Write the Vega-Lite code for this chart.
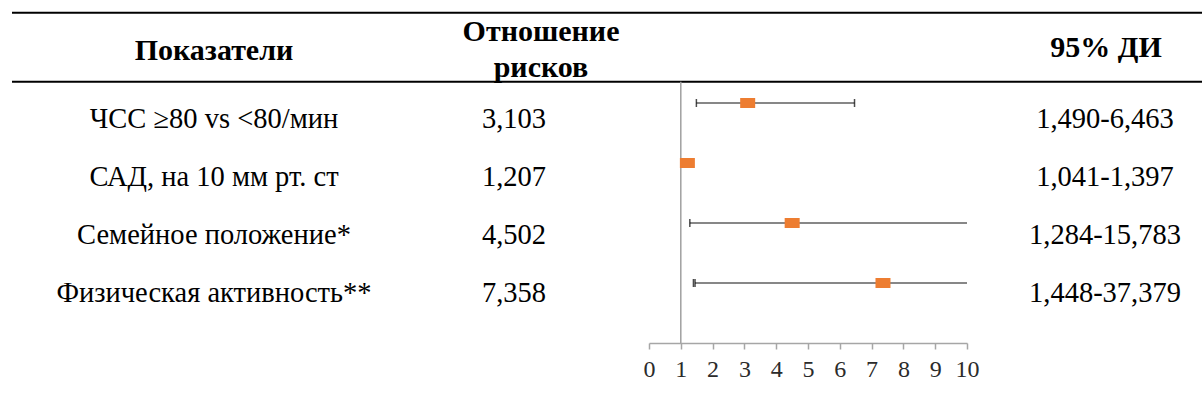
{
  "$schema": "https://vega.github.io/schema/vega-lite/v6.json",
  "padding": {"left": 11, "top": 0, "right": 0, "bottom": 0},
  "spacing": 0,
  "bounds": "flush",
  "config": {
    "view": {"stroke": null},
    "text": {"font": "Liberation Serif", "fontSize": 28.5, "color": "#000000"}
  },
  "datasets": {
    "rows": [
      {"name": "ЧСС ≥80 vs <80/мин", "or": "3,103", "hr": 3.103, "lo": 1.490, "hi": 6.463, "ci": "1,490-6,463"},
      {"name": "САД, на 10 мм рт. ст", "or": "1,207", "hr": 1.207, "lo": 1.041, "hi": 1.397, "ci": "1,041-1,397"},
      {"name": "Семейное положение*", "or": "4,502", "hr": 4.502, "lo": 1.284, "hi": 15.783, "ci": "1,284-15,783"},
      {"name": "Физическая активность**", "or": "7,358", "hr": 7.358, "lo": 1.448, "hi": 37.379, "ci": "1,448-37,379"}
    ],
    "frame": [{"k": "top"}, {"k": "line"}]
  },
  "hconcat": [
    {
      "width": 404,
      "height": 343,
      "layer": [
        {
          "data": {"name": "frame"},
          "mark": {"type": "rule", "color": "#000000", "strokeWidth": 2},
          "encoding": {"y": {"field": "k", "type": "nominal", "axis": null, "scale": {"type": "point", "domain": ["top", "head", "line"], "range": [12.7, 81.7], "padding": 0}}}
        },
        {
          "data": {"values": [{"h": "Показатели"}]},
          "mark": {"type": "text", "fontWeight": "bold", "fontSize": 30, "dy": 4},
          "encoding": {
            "y": {"datum": "head", "type": "nominal", "axis": null, "scale": {"type": "point", "domain": ["top", "head", "line"], "range": [12.7, 81.7], "padding": 0}},
            "text": {"field": "h"}
          }
        },
        {
          "data": {"name": "rows"},
          "mark": {"type": "text"},
          "encoding": {
            "y": {"field": "name", "type": "nominal", "sort": null, "axis": null, "scale": {"type": "point", "range": [119, 293], "padding": 0}},
            "text": {"field": "name"}
          }
        }
      ],
      "resolve": {"scale": {"y": "independent"}}
    },
    {
      "width": 233,
      "height": 343,
      "layer": [
        {
          "data": {"name": "frame"},
          "mark": {"type": "rule", "color": "#000000", "strokeWidth": 2},
          "encoding": {"y": {"field": "k", "type": "nominal", "axis": null, "scale": {"type": "point", "domain": ["top", "head", "line"], "range": [12.7, 81.7], "padding": 0}}}
        },
        {
          "data": {"values": [{"h": "Отношение\nрисков"}]},
          "mark": {"type": "text", "fontWeight": "bold", "fontSize": 30, "lineBreak": "\n", "lineHeight": 36, "dx": 8.5, "dy": -15},
          "encoding": {
            "y": {"datum": "head", "type": "nominal", "axis": null, "scale": {"type": "point", "domain": ["top", "head", "line"], "range": [12.7, 81.7], "padding": 0}},
            "text": {"field": "h"}
          }
        },
        {
          "data": {"name": "rows"},
          "mark": {"type": "text", "dx": -18.5},
          "encoding": {
            "y": {"field": "name", "type": "nominal", "sort": null, "axis": null, "scale": {"type": "point", "range": [119, 293], "padding": 0}},
            "text": {"field": "or"}
          }
        }
      ],
      "resolve": {"scale": {"y": "independent"}}
    },
    {
      "width": 318,
      "height": 343,
      "layer": [
        {
          "data": {"name": "frame"},
          "mark": {"type": "rule", "color": "#000000", "strokeWidth": 2},
          "encoding": {"y": {"field": "k", "type": "nominal", "axis": null, "scale": {"type": "point", "domain": ["top", "head", "line"], "range": [12.7, 81.7], "padding": 0}}}
        },
        {
          "data": {"values": [{"ref": 1}]},
          "mark": {"type": "rule", "color": "#a0a0a0", "strokeWidth": 1.5},
          "encoding": {
            "x": {"field": "ref", "type": "quantitative", "axis": null, "scale": {"domain": [0, 10], "nice": false, "zero": false, "clamp": true}},
            "y": {"datum": "line", "type": "nominal", "axis": null, "scale": {"type": "point", "domain": ["top", "head", "line"], "range": [12.7, 81.7], "padding": 0}},
            "y2": {"value": "height"}
          }
        },
        {
          "data": {"name": "rows"},
          "mark": {"type": "rule", "color": "#5f5f5f", "strokeWidth": 1.4},
          "encoding": {
            "x": {"field": "lo", "type": "quantitative", "axis": null, "scale": {"domain": [0, 10], "nice": false, "zero": false, "clamp": true}},
            "x2": {"field": "hi"},
            "y": {"field": "name", "type": "nominal", "sort": null, "axis": null, "scale": {"type": "point", "range": [103, 283], "padding": 0}}
          }
        },
        {
          "data": {"name": "rows"},
          "mark": {"type": "tick", "color": "#000000", "thickness": 1.5, "size": 8, "orient": "vertical"},
          "encoding": {
            "x": {"field": "lo", "type": "quantitative", "axis": null, "scale": {"domain": [0, 10], "nice": false, "zero": false, "clamp": true}},
            "y": {"field": "name", "type": "nominal", "sort": null, "axis": null, "scale": {"type": "point", "range": [103, 283], "padding": 0}}
          }
        },
        {
          "data": {"name": "rows"},
          "transform": [{"filter": "datum.hi <= 10"}],
          "mark": {"type": "tick", "color": "#000000", "thickness": 1.5, "size": 8, "orient": "vertical"},
          "encoding": {
            "x": {"field": "hi", "type": "quantitative", "axis": null, "scale": {"domain": [0, 10], "nice": false, "zero": false, "clamp": true}},
            "y": {"field": "name", "type": "nominal", "sort": null, "axis": null, "scale": {"type": "point", "range": [103, 283], "padding": 0}}
          }
        },
        {
          "data": {"name": "rows"},
          "mark": {"type": "point", "shape": "M-1,-0.667L1,-0.667L1,0.667L-1,0.667Z", "size": 225, "filled": true, "color": "#ED7D31", "opacity": 1, "strokeWidth": 0},
          "encoding": {
            "x": {
              "field": "hr", "type": "quantitative", "title": null,
              "scale": {"domain": [0, 10], "nice": false, "zero": false, "clamp": true},
              "axis": {
                "values": [0, 1, 2, 3, 4, 5, 6, 7, 8, 9, 10],
                "grid": false,
                "domainColor": "#a6a6a6", "domainWidth": 1.5,
                "tickColor": "#a6a6a6", "tickWidth": 1.5, "tickSize": 6,
                "labelFont": "Liberation Serif", "labelFontSize": 24, "labelColor": "#2b2b2b",
                "labelBaseline": "middle", "labelPadding": 20,
                "labelFlush": false, "labelOverlap": false
              }
            },
            "y": {"field": "name", "type": "nominal", "sort": null, "axis": null, "scale": {"type": "point", "range": [103, 283], "padding": 0}}
          }
        }
      ],
      "resolve": {"scale": {"x": "independent", "y": "independent"}}
    },
    {
      "width": 236,
      "height": 343,
      "layer": [
        {
          "data": {"name": "frame"},
          "mark": {"type": "rule", "color": "#000000", "strokeWidth": 2},
          "encoding": {"y": {"field": "k", "type": "nominal", "axis": null, "scale": {"type": "point", "domain": ["top", "head", "line"], "range": [12.7, 81.7], "padding": 0}}}
        },
        {
          "data": {"values": [{"h": "95% ДИ"}]},
          "mark": {"type": "text", "fontWeight": "bold", "fontSize": 30, "dx": 21, "dy": 1},
          "encoding": {
            "y": {"datum": "head", "type": "nominal", "axis": null, "scale": {"type": "point", "domain": ["top", "head", "line"], "range": [12.7, 81.7], "padding": 0}},
            "text": {"field": "h"}
          }
        },
        {
          "data": {"name": "rows"},
          "mark": {"type": "text", "dx": 20},
          "encoding": {
            "y": {"field": "name", "type": "nominal", "sort": null, "axis": null, "scale": {"type": "point", "range": [119, 293], "padding": 0}},
            "text": {"field": "ci"}
          }
        }
      ],
      "resolve": {"scale": {"y": "independent"}}
    }
  ]
}
